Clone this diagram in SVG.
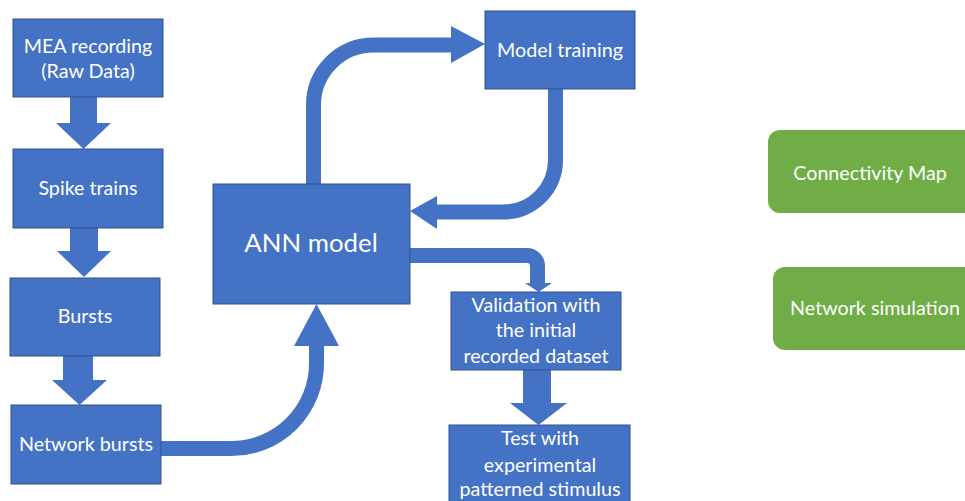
<svg xmlns="http://www.w3.org/2000/svg" width="965" height="501" viewBox="0 0 965 501">
<style>
.box{fill:#4472C4;stroke:#2F528F;stroke-width:1}
.gbox{fill:#70AD47;stroke:none}
.t{font-family:Lato,"Open Sans","Liberation Sans",sans-serif;font-size:19.7px;fill:#ffffff;text-anchor:middle}
.big{font-size:25.8px}
.shaft{fill:none;stroke:#4472C4;stroke-width:15}
.head{fill:#4472C4;stroke:none}
.blk{fill:#4472C4;stroke:none}
</style>
<rect width="965" height="501" fill="#ffffff"/>
<g id="connectors">
  <rect class="blk" x="70" y="97" width="27" height="27"/>
  <polygon class="head" points="56,123 111,123 83.5,149"/>
  <rect class="blk" x="70" y="228" width="28" height="24"/>
  <polygon class="head" points="57,251 111,251 84,277"/>
  <rect class="blk" x="63" y="356" width="30" height="25"/>
  <polygon class="head" points="52,380 107,380 79.5,405"/>
  <path class="shaft" d="M161,448.5 H231.5 A85,85 0 0 0 316.5,363.5 V345"/>
  <polygon class="head" points="294,346 339,346 316.5,304"/>
  <path class="shaft" d="M313.5,184 V105 A60,60 0 0 1 373.5,45 H452"/>
  <polygon class="head" points="451,26 451,63 485,44"/>
  <path class="shaft" d="M555.5,89 V160 A52,52 0 0 1 503.5,212 H436"/>
  <polygon class="head" points="437,196 437,229 410,211"/>
  <path class="shaft" d="M410,255.5 H527 A10.5,10.5 0 0 1 537.5,266 V284"/>
  <polygon class="head" points="525,283 552,283 538.5,292"/>
  <rect class="blk" x="523" y="370" width="28" height="34"/>
  <polygon class="head" points="510,403 567,403 538.5,425"/>
</g>
<g id="mea"><rect class="box" x="13" y="19" width="150" height="78"/><text class="t" x="88" y="53">MEA recording</text><text class="t" x="88" y="78">(Raw Data)</text></g>
<g id="spike"><rect class="box" x="13" y="149" width="150" height="79"/><text class="t" x="88" y="195">Spike trains</text></g>
<g id="bursts"><rect class="box" x="10" y="278" width="150" height="78"/><text class="t" x="85" y="323">Bursts</text></g>
<g id="netbursts"><rect class="box" x="11" y="405" width="150" height="79"/><text class="t" x="86" y="451">Network bursts</text></g>
<g id="ann"><rect class="box" x="213" y="184" width="197" height="120"/><text class="t big" x="311" y="252">ANN model</text></g>
<g id="training"><rect class="box" x="485" y="11" width="150" height="78"/><text class="t" x="560" y="57">Model training</text></g>
<g id="validation"><rect class="box" x="451" y="292" width="170" height="78"/><text class="t" x="536" y="312">Validation with</text><text class="t" x="536" y="337">the initial</text><text class="t" x="536" y="363">recorded dataset</text></g>
<g id="test"><rect class="box" x="449" y="425" width="181" height="90"/><text class="t" x="540" y="445">Test with</text><text class="t" x="540" y="472">experimental</text><text class="t" x="540" y="496">patterned stimulus</text></g>
<g id="connectivity"><rect class="gbox" x="768" y="130" width="215" height="83" rx="12"/><text class="t" x="870" y="180">Connectivity Map</text></g>
<g id="netsim"><rect class="gbox" x="773" y="267" width="210" height="83" rx="12"/><text class="t" x="875" y="315">Network simulation</text></g>
</svg>
